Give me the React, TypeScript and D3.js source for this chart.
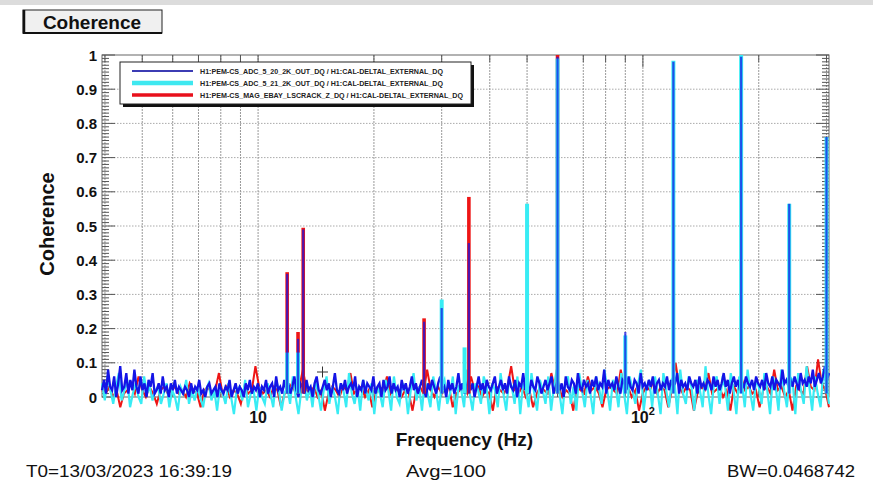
import React from "react";
import * as d3 from "d3";

const W = 873;
const H = 484;
const F_MIN = 3.93;
const F_MAX = 304.5;

const yTickValues = [0, 0.1, 0.2, 0.3, 0.4, 0.5, 0.6, 0.7, 0.8, 0.9, 1];
const yTickLabels = ["0", "0.1", "0.2", "0.3", "0.4", "0.5", "0.6", "0.7", "0.8", "0.9", "1"];
const xLogTicks = [4, 5, 6, 7, 8, 9, 10, 20, 30, 40, 50, 60, 70, 80, 90, 100, 200, 300];
const xMajorTicks = [10, 100];
const xMajorExp = [1, 2];

const legendLabels = [
  "H1:PEM-CS_ADC_5_20_2K_OUT_DQ / H1:CAL-DELTAL_EXTERNAL_DQ",
  "H1:PEM-CS_ADC_5_21_2K_OUT_DQ / H1:CAL-DELTAL_EXTERNAL_DQ",
  "H1:PEM-CS_MAG_EBAY_LSCRACK_Z_DQ / H1:CAL-DELTAL_EXTERNAL_DQ",
];

// noise floor of each coherence trace (log-spaced samples from F_MIN to F_MAX)
const blueNoise = [
  .02, .05, .01, .08, .03, .02, .06, .00, .04, .09, .02, .03, .07, .01, .05, .02, .08, .03, .01, .06,
  .02, .04, .00, .05, .03, .07, .01, .02, .04, .01, .06, .02, .03, .00, .04, .02, .05, .01, .03, .02,
  .01, .03, .02, .00, .04, .01, .03, .02, .05, .01, .02, .00, .03, .04, .01, .02, .03, .00, .04, .02,
  .01, .03, .02, .05, .00, .02, .04, .01, .03, .02, .00, .04, .02, .05, .01, .03, .02, .04, .00, .03,
  .02, .05, .01, .03, .04, .00, .06, .02, .03, .01, .05, .02, .04, .01, .03, .06, .02, .00, .04, .03,
  .01, .05, .02, .03, .00, .04, .06, .02, .01, .03, .05, .02, .04, .00, .03, .07, .02, .01, .04, .02,
  .05, .01, .03, .04, .02, .06, .00, .03, .02, .05, .01, .04, .03, .02, .06, .01, .03, .04, .00, .05,
  .02, .03, .06, .01, .04, .02, .03, .00, .05, .02, .04, .01, .03, .06, .02, .04, .01, .03, .05, .02,
  .00, .04, .02, .05, .03, .01, .04, .06, .02, .03, .00, .05, .02, .04, .01, .03, .07, .02, .04, .01,
  .03, .05, .02, .04, .00, .03, .06, .02, .04, .01, .05, .03, .02, .04, .06, .01, .03, .05, .02, .04,
  .01, .06, .03, .02, .05, .00, .04, .03, .07, .02, .04, .01, .05, .03, .02, .06, .04, .01, .03, .05,
  .02, .04, .06, .01, .03, .05, .02, .04, .00, .06, .03, .02, .05, .04, .01, .07, .03, .02, .05, .03,
  .04, .01, .05, .03, .06, .02, .04, .03, .08, .01, .05, .03, .04, .02, .06, .03, .01, .05, .04, .02,
  .06, .03, .02, .05, .04, .01, .07, .03, .04, .02, .05, .03, .06, .01, .04, .05, .02, .04, .03, .06,
  .02, .05, .03, .04, .07, .01, .05, .03, .04, .02, .06, .04, .03, .05, .01, .06, .03, .04, .02, .05,
  .04, .02, .06, .03, .05, .02, .04, .07, .03, .05, .01, .04, .06, .03, .05, .02, .04, .03, .06, .04,
  .03, .05, .02, .06, .04, .03, .05, .02, .07, .04, .03, .06, .02, .05, .04, .03, .08, .04, .05, .03,
  .05, .03, .06, .04, .02, .07, .04, .05, .03, .06, .04, .08, .03, .05, .07, .04, .06, .09, .05, .07,
];

const cyanNoise = [
  .04, -.01, .06, .02, -.02, .03, .07, -.01, .02, .05, -.03, .01, .04, .00, -.02, .06, .01, .03, -.01, .02,
  .03, -.02, .01, .04, -.03, .02, .00, -.04, .03, .01, .05, -.02, .02, -.01, .03, .00, -.03, .02, .04, -.01,
  .02, -.04, .03, .01, -.02, .04, .00, -.05, .02, .03, -.01, .05, -.03, .01, .02, -.04, .03, .00, -.02, .04,
  .01, -.03, .05, .02, -.04, .01, .03, -.02, .06, .00, -.05, .02, .04, -.01, .03, -.03, .05, .01, -.04, .02,
  .06, -.02, .03, .00, -.05, .04, .02, -.03, .07, .01, -.02, .03, -.04, .05, .02, -.01, .04, -.05, .03, .01,
  -.03, .05, .02, -.04, .06, .00, -.02, .04, .03, -.05, .02, .07, -.01, .03, -.04, .05, .01, -.03, .06, .02,
  -.04, .03, .05, -.02, .01, .06, -.05, .03, .02, -.03, .08, .01, -.04, .04, .02, -.02, .06, .03, -.05, .04,
  .02, -.03, .07, .01, -.04, .05, .03, -.02, .06, -.05, .04, .02, -.03, .07, .01, -.04, .05, .02, -.02, .06,
  -.04, .03, .08, .01, -.05, .04, .06, -.02, .03, -.04, .07, .02, -.03, .05, .01, -.05, .06, .03, -.02, .08,
  .02, -.04, .05, .03, -.03, .07, .01, -.05, .06, .02, -.02, .04, .08, -.04, .03, .05, -.03, .06, .01, -.05,
  .07, .02, -.03, .05, .04, -.05, .08, .01, -.02, .06, .03, -.04, .05, .02, -.03, .09, .01, -.05, .04, .06,
  -.02, .05, .03, -.04, .07, .02, -.05, .06, .04, -.03, .08, .01, -.04, .05, .03, -.02, .07, .02, -.05, .06,
  .03, -.04, .08, .02, -.03, .06, .05, -.05, .07, .02, -.02, .09, .03, -.04, .06, .01, -.03, .08, .04, -.02,
];

const redNoise = [
  .02, .01, .03, .00, .02, -.03, .01, .02, .04, .01, .06, .02, .00, .03, .01, -.02, .02, .03, .01, .02,
  .03, .01, .02, .00, .04, .02, .01, -.03, .02, .03, .01, .02, .07, .01, .03, .00, .02, .01, -.02, .03,
  .01, .02, .09, .03, .01, .02, .00, .03, .02, -.03, .01, .02, .04, .01, .03, .08, .02, .01, .03, .00,
  .02, -.04, .01, .03, .02, .00, .03, .02, .07, .01, .02, .03, .00, .02, -.03, .01, .03, .02, .06, .01,
  .03, .02, .00, .02, .01, -.04, .02, .03, .01, .08, .02, .00, .03, .01, .02, .03, -.03, .01, .02, .03,
  .01, .06, .02, .03, .00, .02, .01, -.04, .03, .02, .01, .03, .09, .02, .01, .03, .00, .02, -.03, .01,
  .03, .02, .01, .07, .02, .03, .00, .02, .01, -.04, .03, .02, .01, .06, .02, .03, .01, -.03, .02, .03,
  .02, .01, .08, .02, .03, .00, .02, -.04, .01, .03, .02, .05, .01, .03, .02, -.03, .02, .10, .03, .01,
  .03, .02, -.04, .01, .03, .02, .07, .01, .02, .03, .00, .02, -.04, .03, .01, .06, .02, .03, .01, .02,
  -.03, .02, .03, .01, .08, .02, .03, .00, .02, -.04, .03, .02, .01, .09, .03, .02, .11, .04, .02, -.03,
];

// narrow coherence lines (Hz, coherence)
const blueSpikeF = [11.9, 12.7, 13.1, 27, 30, 35.3, 60, 90, 120, 180, 240, 300];
const blueSpikeV = [0.36, 0.17, 0.49, 0.22, 0.26, 0.45, 0.995, 0.19, 0.98, 0.995, 0.565, 0.76];
const cyanSpikeF = [11.9, 12.7, 30, 34.4, 50, 60, 90, 120, 180, 240, 300];
const cyanSpikeV = [0.13, 0.13, 0.285, 0.145, 0.565, 0.99, 0.18, 0.983, 1.0, 0.565, 0.76];
const redSpikeF = [11.9, 12.7, 13.1, 27, 35.3, 60];
const redSpikeV = [0.365, 0.19, 0.495, 0.23, 0.585, 1.0];

const FONT = "'Liberation Sans', Arial, Helvetica, sans-serif";

export default function App() {
  const left = 102, right = 829, top = 55, bottom = 397;
  const x = d3.scaleLog().domain([F_MIN, F_MAX]).range([left, right]);
  const y = d3.scaleLinear().domain([0, 1]).range([bottom, top]);
  const grid = (n: number) => d3.range(n).map((i) => F_MIN * Math.pow(F_MAX / F_MIN, i / (n - 1)));
  const line = d3
    .line<[number, number]>()
    .x((d) => x(d[0]))
    .y((d) => y(d[1]));

  const toPts = (vals: number[]) => {
    const g = grid(vals.length);
    return vals.map((v, i) => [g[i], v] as [number, number]);
  };

  const series = [
    { noise: redNoise, sf: redSpikeF, sv: redSpikeV, color: "#ee1515", nw: 2, sw: 3.6, so: 1 },
    { noise: cyanNoise, sf: cyanSpikeF, sv: cyanSpikeV, color: "#38ecf4", nw: 2.2, sw: 4, so: 1 },
    { noise: blueNoise, sf: blueSpikeF, sv: blueSpikeV, color: "#1414e6", nw: 2.3, sw: 2.2, so: 0.72 },
  ];

  const minorY = d3.range(0, 101).map((i) => i / 100);

  return (
    <svg
      width={W}
      height={H}
      style={{ position: "absolute", left: 0, top: 0, background: "#fff" }}
      fontFamily={FONT}
    >
      <rect x={0} y={0} width={W} height={H} fill="#fff" />
      <rect x={0} y={0} width={W} height={5} fill="#dcdcdc" />

      {/* title box */}
      <rect x={23} y={10} width={139} height={23} fill="#f0f0f0" stroke="#222" strokeWidth={1} />
      <line x1={24} y1={10} x2={24} y2={34} stroke="#111" strokeWidth={2.5} />
      <line x1={23} y1={33} x2={162} y2={33} stroke="#111" strokeWidth={2} />
      <text x={92} y={28.5} textAnchor="middle" fontSize={19} fontWeight="bold" fill="#111">
        Coherence
      </text>

      {/* grid */}
      {yTickValues.slice(1, -1).map((v) => (
        <line key={"gy" + v} x1={left} x2={right} y1={y(v)} y2={y(v)} stroke="#aaa" strokeWidth={1} strokeDasharray="1.5 1.5" />
      ))}
      {xLogTicks.map((f) => (
        <line key={"gx" + f} x1={x(f)} x2={x(f)} y1={top} y2={bottom} stroke="#999" strokeWidth={1} strokeDasharray="2 1" />
      ))}

      {/* frame */}
      <rect x={left} y={top} width={right - left} height={bottom - top} fill="none" stroke="#666" strokeWidth={1} />

      {/* y ticks left and right */}
      {minorY.map((v, i) => {
        const len = i % 10 === 0 ? 13 : 7;
        return (
          <g key={"ty" + i}>
            <line x1={left} x2={left + len} y1={y(v)} y2={y(v)} stroke="#555" strokeWidth={1} />
            <line x1={right} x2={right - len} y1={y(v)} y2={y(v)} stroke="#555" strokeWidth={1} />
          </g>
        );
      })}
      {/* x ticks top and bottom */}
      {xLogTicks.map((f) => {
        const len = xMajorTicks.includes(f) ? 12 : 7;
        return (
          <g key={"tx" + f}>
            <line x1={x(f)} x2={x(f)} y1={top} y2={top + len} stroke="#555" strokeWidth={1} />
            <line x1={x(f)} x2={x(f)} y1={bottom} y2={bottom - len} stroke="#555" strokeWidth={1} />
          </g>
        );
      })}

      {/* data */}
      {series.map((s, k) => (
        <g key={"s" + k}>
          <path d={line(toPts(s.noise)) || ""} fill="none" stroke={s.color} strokeWidth={s.nw} strokeLinejoin="miter" />
        </g>
      ))}
      {series.map((s, k) => (
        <g key={"sp" + k} opacity={s.so}>
          {s.sf.map((f, i) => (
            <line key={i} x1={x(f)} x2={x(f)} y1={y(0.01)} y2={y(s.sv[i])} stroke={s.color} strokeWidth={s.sw} />
          ))}
        </g>
      ))}

      {/* cursor cross */}
      <line x1={317} x2={328} y1={372} y2={372} stroke="#333" strokeWidth={1} />
      <line x1={322.5} x2={322.5} y1={366.5} y2={377.5} stroke="#333" strokeWidth={1} />

      {/* y labels */}
      {yTickValues.map((v, i) => (
        <text key={"yl" + i} x={97} y={y(v) + 5.5} textAnchor="end" fontSize={15} fontWeight="bold" fill="#111">
          {yTickLabels[i]}
        </text>
      ))}
      {/* x labels */}
      {xMajorTicks.map((f, i) =>
        xMajorExp[i] === 1 ? (
          <text key={"xl" + f} x={x(f)} y={423} textAnchor="middle" fontSize={16} fontWeight="bold" fill="#111">
            10
          </text>
        ) : (
          <text key={"xl" + f} x={x(f)} y={423} textAnchor="middle" fontSize={16} fontWeight="bold" fill="#111">
            10
            <tspan fontSize={11} dy={-8}>
              {xMajorExp[i]}
            </tspan>
          </text>
        )
      )}

      {/* axis titles */}
      <text x={533} y={446} textAnchor="end" fontSize={19} fontWeight="bold" fill="#111">
        Frequency (Hz)
      </text>
      <text transform="translate(54,224) rotate(-90)" textAnchor="middle" fontSize={20} fontWeight="bold" fill="#111">
        Coherence
      </text>

      {/* legend */}
      <rect x={123} y={65} width={351} height={42} fill="#111" />
      <rect x={120} y={62} width={351} height={42} fill="#fff" stroke="#222" strokeWidth={1} />
      {legendLabels.map((lab, i) => {
        const ly = 71 + i * 12;
        const col = ["#3c3cb4", "#3ee8f0", "#e8101c"][i];
        const lw = [2, 4.5, 3.5][i];
        const tl = [243, 243, 263][i];
        return (
          <g key={"lg" + i}>
            <line x1={132} x2={193} y1={ly} y2={ly} stroke={col} strokeWidth={lw} />
            <text x={200} y={ly + 2.6} fontSize={7.2} fontWeight="bold" fill="#222" textLength={tl} lengthAdjust="spacingAndGlyphs">
              {lab}
            </text>
          </g>
        );
      })}

      {/* footer */}
      <text x={26} y={477} fontSize={17} fill="#111" textLength={206} lengthAdjust="spacingAndGlyphs">
        T0=13/03/2023 16:39:19
      </text>
      <text x={406} y={477} fontSize={17} fill="#111" textLength={80} lengthAdjust="spacingAndGlyphs">
        Avg=100
      </text>
      <text x={727} y={477} fontSize={17} fill="#111" textLength={128} lengthAdjust="spacingAndGlyphs">
        BW=0.0468742
      </text>
    </svg>
  );
}
